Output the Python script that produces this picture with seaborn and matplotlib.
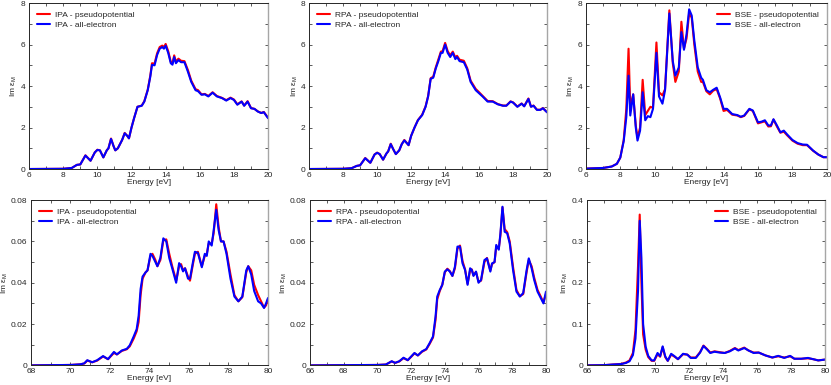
import matplotlib
matplotlib.use("Agg")
import matplotlib.pyplot as plt
import numpy as np
import pandas as pd
import seaborn as sns
from matplotlib.ticker import MultipleLocator

# valence region (6-20 eV)
ipa_e = [6.0, 8.0, 8.5, 8.8, 9.0, 9.3, 9.6, 9.85, 10.0, 10.15, 10.35, 10.55, 10.65, 10.8, 10.95, 11.05,
         11.2, 11.45, 11.6, 11.75, 11.85, 12.0, 12.15, 12.35, 12.6, 12.75, 12.95, 13.1, 13.2, 13.35, 13.5,
         13.65, 13.8, 13.9, 14.0, 14.15, 14.3, 14.4, 14.5, 14.6, 14.75, 14.9, 15.1, 15.3, 15.5, 15.75,
         15.9, 16.1, 16.3, 16.5, 16.75, 17.0, 17.3, 17.55, 17.8, 18.0, 18.2, 18.45, 18.6, 18.8, 19.0,
         19.2, 19.4, 19.6, 19.75, 20.0]
ipa_ae = [0.0, 0.01, 0.05, 0.2, 0.22, 0.65, 0.4, 0.8, 0.92, 0.9, 0.56, 0.9, 1.0, 1.45, 1.1, 0.9,
          1.0, 1.4, 1.72, 1.6, 1.48, 2.0, 2.45, 3.0, 3.05, 3.25, 3.8, 4.45, 5.02, 5.0, 5.5,
          5.8, 5.88, 5.8, 5.95, 5.6, 5.1, 5.03, 5.4, 5.1, 5.25, 5.15, 5.15, 4.7, 4.2, 3.8,
          3.75, 3.58, 3.6, 3.5, 3.68, 3.5, 3.42, 3.3, 3.42, 3.33, 3.1, 3.25, 3.05, 3.25, 2.93,
          2.9, 2.77, 2.7, 2.74, 2.45]
ipa_pp = [0.0, 0.01, 0.05, 0.2, 0.22, 0.66, 0.4, 0.8, 0.93, 0.9, 0.56, 0.9, 1.0, 1.47, 1.1, 0.9,
          1.0, 1.4, 1.74, 1.6, 1.48, 2.0, 2.45, 3.0, 3.06, 3.27, 3.82, 4.5, 5.1, 5.08, 5.58,
          5.88, 5.95, 5.88, 6.03, 5.68, 5.17, 5.1, 5.48, 5.18, 5.32, 5.22, 5.2, 4.78, 4.26, 3.85,
          3.8, 3.6, 3.62, 3.52, 3.7, 3.52, 3.43, 3.32, 3.44, 3.35, 3.12, 3.26, 3.06, 3.27, 2.94,
          2.9, 2.78, 2.7, 2.75, 2.47]

rpa_e = [6.0, 8.0, 8.5, 8.8, 9.0, 9.3, 9.6, 9.85, 10.0, 10.15, 10.35, 10.55, 10.65, 10.8, 10.95,
         11.1, 11.3, 11.45, 11.6, 11.85, 12.0, 12.2, 12.4, 12.65, 12.85, 13.0, 13.15, 13.3, 13.45, 13.6,
         13.75, 13.85, 14.0, 14.15, 14.3, 14.45, 14.6, 14.7, 14.85, 15.1, 15.3, 15.5, 15.8, 16.0, 16.2,
         16.5, 16.8, 17.1, 17.4, 17.6, 17.85, 18.0, 18.25, 18.5, 18.65, 18.9, 19.05, 19.2, 19.4, 19.6,
         19.75, 20.0]
rpa_ae = [0.0, 0.01, 0.04, 0.15, 0.18, 0.52, 0.3, 0.7, 0.78, 0.72, 0.45, 0.75, 0.85, 1.2, 0.95,
          0.72, 0.9, 1.2, 1.38, 1.15, 1.6, 2.0, 2.35, 2.6, 3.0, 3.5, 4.35, 4.4, 4.85, 5.2,
          5.6, 5.6, 6.0, 5.6, 5.4, 5.6, 5.3, 5.4, 5.2, 5.15, 4.8, 4.2, 3.8, 3.65, 3.5,
          3.25, 3.25, 3.12, 3.05, 3.05, 3.25, 3.2, 3.0, 3.15, 3.02, 3.38, 3.0, 3.05, 2.85, 2.85,
          2.93, 2.73]
rpa_pp = [0.0, 0.01, 0.04, 0.15, 0.18, 0.53, 0.3, 0.7, 0.79, 0.72, 0.45, 0.75, 0.85, 1.22, 0.95,
          0.72, 0.9, 1.2, 1.4, 1.15, 1.6, 2.0, 2.36, 2.62, 3.02, 3.52, 4.38, 4.45, 4.9, 5.28,
          5.66, 5.68, 6.08, 5.68, 5.48, 5.66, 5.38, 5.46, 5.27, 5.22, 4.86, 4.26, 3.86, 3.7, 3.53,
          3.28, 3.27, 3.13, 3.06, 3.06, 3.26, 3.21, 3.01, 3.16, 3.03, 3.4, 3.01, 3.06, 2.86, 2.86,
          2.94, 2.74]

bse_e = [6.0, 7.0, 7.5, 7.8, 8.0, 8.2, 8.35, 8.48, 8.58, 8.75, 8.9, 9.0, 9.15, 9.3, 9.45, 9.6,
         9.75, 9.9, 10.1, 10.25, 10.45, 10.6, 10.85, 11.05, 11.2, 11.4, 11.55, 11.7, 11.85, 12.0,
         12.15, 12.3, 12.5, 12.7, 12.8, 13.0, 13.2, 13.4, 13.6, 13.8, 14.0, 14.2, 14.5, 14.8, 15.0,
         15.2, 15.5, 15.7, 16.0, 16.2, 16.4, 16.6, 16.75, 16.9, 17.1, 17.3, 17.5, 17.7, 18.0, 18.3,
         18.6, 18.85, 19.2, 19.5, 19.8, 20.0]
bse_ae = [0.02, 0.05, 0.12, 0.25, 0.55, 1.35, 2.5, 4.5, 2.58, 3.6, 2.0, 1.37, 1.85, 3.7, 2.35, 2.55,
          2.5, 2.9, 5.6, 3.5, 3.15, 3.8, 7.5, 5.2, 4.5, 4.9, 6.6, 5.75, 6.5, 7.7,
          7.4, 6.2, 4.9, 4.4, 4.3, 3.8, 3.7, 3.82, 3.92, 3.45, 2.9, 2.9, 2.65, 2.6, 2.52,
          2.58, 2.9, 2.82, 2.25, 2.28, 2.35, 2.1, 2.1, 2.4, 2.1, 1.77, 1.85, 1.66, 1.4, 1.25,
          1.18, 1.17, 0.89, 0.7, 0.57, 0.57]
bse_pp = [0.02, 0.05, 0.12, 0.25, 0.55, 1.4, 2.9, 5.8, 3.0, 3.6, 2.1, 1.5, 2.0, 4.3, 2.6, 2.8,
          3.0, 2.95, 6.1, 3.7, 3.55, 3.85, 7.65, 5.1, 4.2, 4.7, 7.1, 5.8, 6.3, 7.5,
          7.3, 6.0, 4.7, 4.2, 4.2, 3.75, 3.6, 3.78, 3.85, 3.4, 2.8, 2.85, 2.62, 2.58, 2.5,
          2.56, 2.88, 2.8, 2.2, 2.25, 2.3, 2.05, 2.06, 2.38, 2.05, 1.75, 1.8, 1.62, 1.37, 1.22,
          1.15, 1.15, 0.88, 0.7, 0.57, 0.57]

# semicore region (66-80 eV)
ipa2_e = [68.0, 70.0, 70.5, 70.7, 70.85, 71.1, 71.35, 71.65, 71.9, 72.2, 72.35, 72.6, 72.85, 73.0,
          73.2, 73.35, 73.45, 73.55, 73.65, 73.8, 73.9, 74.05, 74.15, 74.3, 74.4, 74.55, 74.7, 74.85,
          75.0, 75.15, 75.35, 75.5, 75.6, 75.7, 75.8, 75.95, 76.05, 76.2, 76.3, 76.45, 76.65, 76.8,
          76.9, 77.0, 77.15, 77.25, 77.38, 77.5, 77.62, 77.75, 77.9, 78.1, 78.3, 78.5, 78.7, 78.9,
          79.0, 79.15, 79.3, 79.5, 79.65, 79.8, 79.9, 80.0]
ipa2_ae = [0.0, 0.0002, 0.0005, 0.001, 0.0025, 0.0015, 0.0025, 0.0045, 0.003, 0.0065, 0.0053, 0.0072,
           0.008, 0.0097, 0.014, 0.0175, 0.024, 0.037, 0.043, 0.045, 0.046, 0.054, 0.053, 0.05,
           0.048, 0.052, 0.0615, 0.06, 0.052, 0.047, 0.040, 0.0495, 0.048, 0.0455, 0.047, 0.042,
           0.042, 0.050, 0.055, 0.0545, 0.0475, 0.054, 0.053, 0.060, 0.058, 0.0655, 0.0753, 0.0655,
           0.060, 0.060, 0.054, 0.042, 0.0333, 0.031, 0.0333, 0.046, 0.048, 0.044, 0.036, 0.031,
           0.030, 0.0278, 0.030, 0.0326]
ipa2_pp = [0.0, 0.0002, 0.0005, 0.0009, 0.0023, 0.0015, 0.0023, 0.0043, 0.003, 0.006, 0.0053, 0.007,
           0.0078, 0.0092, 0.013, 0.0165, 0.021, 0.034, 0.042, 0.045, 0.046, 0.053, 0.054, 0.051,
           0.048, 0.051, 0.0605, 0.061, 0.054, 0.048, 0.041, 0.048, 0.049, 0.046, 0.047, 0.043,
           0.041, 0.049, 0.054, 0.055, 0.048, 0.053, 0.054, 0.059, 0.059, 0.064, 0.078, 0.067,
           0.060, 0.060, 0.055, 0.044, 0.034, 0.031, 0.033, 0.045, 0.048, 0.046, 0.039, 0.034,
           0.031, 0.028, 0.029, 0.032]

rpa2_e = [66.0, 70.0, 70.5, 70.85, 71.05, 71.3, 71.55, 71.8, 72.05, 72.2, 72.4, 72.65, 72.9, 73.1,
          73.3, 73.45, 73.55, 73.7, 73.85, 74.0, 74.15, 74.3, 74.45, 74.6, 74.75, 74.9, 75.05, 75.2,
          75.35, 75.5, 75.6, 75.7, 75.85, 76.0, 76.15, 76.35, 76.5, 76.7, 76.8, 76.95, 77.05, 77.2,
          77.3, 77.42, 77.55, 77.7, 77.85, 78.05, 78.25, 78.45, 78.65, 78.85, 78.98, 79.15, 79.3,
          79.5, 79.65, 79.85, 80.0]
rpa2_ae = [0.0, 0.0002, 0.0004, 0.002, 0.0012, 0.002, 0.0037, 0.0025, 0.0047, 0.006, 0.0048, 0.0068,
           0.0079, 0.0108, 0.014, 0.0237, 0.0333, 0.0365, 0.039, 0.0454, 0.0465, 0.0454, 0.0433,
           0.0478, 0.0575, 0.0575, 0.0494, 0.0462, 0.039, 0.047, 0.0462, 0.0433, 0.0454, 0.040,
           0.0414, 0.051, 0.0518, 0.0454, 0.0494, 0.050, 0.0583, 0.056, 0.064, 0.0768, 0.0647,
           0.064, 0.059, 0.046, 0.0357, 0.0333, 0.035, 0.046, 0.0518, 0.047, 0.0414, 0.0357,
           0.0333, 0.030, 0.0357]
rpa2_pp = [0.0, 0.0002, 0.0004, 0.0019, 0.0012, 0.0019, 0.0035, 0.0025, 0.0045, 0.0058, 0.0048, 0.0066,
           0.0077, 0.0104, 0.0135, 0.022, 0.032, 0.036, 0.039, 0.045, 0.0468, 0.0456, 0.0433,
           0.047, 0.0565, 0.058, 0.0505, 0.0465, 0.0395, 0.046, 0.0465, 0.0436, 0.0452, 0.0405,
           0.041, 0.050, 0.052, 0.046, 0.049, 0.050, 0.0575, 0.0565, 0.063, 0.0765, 0.066,
           0.0645, 0.060, 0.0475, 0.0365, 0.0335, 0.0345, 0.045, 0.051, 0.048, 0.0425, 0.0365,
           0.034, 0.0305, 0.0345]

bse2_e = [66.0, 67.0, 67.5, 68.0, 68.3, 68.5, 68.7, 68.85, 69.0, 69.1, 69.2, 69.3, 69.45, 69.6,
          69.8, 69.95, 70.15, 70.3, 70.45, 70.6, 70.75, 70.95, 71.15, 71.35, 71.65, 71.9, 72.1,
          72.4, 72.65, 72.85, 73.05, 73.25, 73.5, 73.8, 74.1, 74.4, 74.7, 74.9, 75.25, 75.5, 75.8,
          76.1, 76.5, 76.9, 77.25, 77.6, 77.95, 78.2, 78.6, 79.0, 79.3, 79.6, 80.0]
bse2_ae = [0.0, 0.0005, 0.002, 0.003, 0.006, 0.01, 0.025, 0.065, 0.18, 0.35, 0.26, 0.1, 0.045,
           0.023, 0.012, 0.012, 0.03, 0.022, 0.046, 0.022, 0.011, 0.028, 0.022, 0.015, 0.028,
           0.026, 0.018, 0.018, 0.031, 0.047, 0.039, 0.03, 0.033, 0.031, 0.03, 0.034, 0.041,
           0.036, 0.042, 0.036, 0.03, 0.031, 0.024, 0.019, 0.023, 0.018, 0.023, 0.016, 0.016,
           0.018, 0.015, 0.012, 0.014]
bse2_pp = [0.0, 0.0005, 0.002, 0.0035, 0.007, 0.012, 0.03, 0.085, 0.24, 0.365, 0.2, 0.075, 0.038,
           0.02, 0.011, 0.011, 0.027, 0.021, 0.044, 0.02, 0.011, 0.026, 0.021, 0.015, 0.027,
           0.026, 0.019, 0.019, 0.032, 0.048, 0.04, 0.031, 0.034, 0.032, 0.03, 0.035, 0.042,
           0.037, 0.043, 0.036, 0.031, 0.031, 0.024, 0.019, 0.022, 0.019, 0.022, 0.016, 0.016,
           0.017, 0.015, 0.012, 0.014]

panels = [
    ("IPA", ipa_e, ipa_pp, ipa_ae, (6, 20), (0, 8), 2, 1, 2, "upper left"),
    ("RPA", rpa_e, rpa_pp, rpa_ae, (6, 20), (0, 8), 2, 1, 2, "upper left"),
    ("BSE", bse_e, bse_pp, bse_ae, (6, 20), (0, 8), 2, 1, 2, "upper right"),
    ("IPA", ipa2_e, ipa2_pp, ipa2_ae, (68, 80), (0, 0.08), 2, 1, 0.02, "upper left"),
    ("RPA", rpa2_e, rpa2_pp, rpa2_ae, (66, 80), (0, 0.08), 2, 1, 0.02, "upper left"),
    ("BSE", bse2_e, bse2_pp, bse2_ae, (66, 80), (0, 0.4), 2, 1, 0.1, "upper right"),
]

# axes boxes in figure fraction [left, bottom, width, height]
boxes = [
    [0.035, 0.561, 0.2876, 0.431],
    [0.372, 0.561, 0.2864, 0.431],
    [0.705, 0.561, 0.2900, 0.431],
    [0.0373, 0.051, 0.2852, 0.4292],
    [0.373, 0.051, 0.2840, 0.4292],
    [0.7064, 0.051, 0.2864, 0.4292],
]

sns.set_theme(style="ticks")
plt.rcParams["font.family"] = ["Liberation Sans", "DejaVu Sans"]
plt.rcParams["mathtext.fontset"] = "custom"
plt.rcParams["mathtext.rm"] = "Liberation Sans"
plt.rcParams["mathtext.it"] = "Liberation Sans"

fig = plt.figure(figsize=(8.31, 3.85), dpi=100)
fs = 6.0

for (name, e, pp, ae, xlim, ylim, xmaj, xmin, ymaj, loc), box in zip(panels, boxes):
    ax = fig.add_axes(box)
    lab_pp = f"{name} - pseudopotential"
    lab_ae = f"{name} - all-electron"
    df = pd.concat([
        pd.DataFrame({"energy": e, "im": pp, "calc": lab_pp}),
        pd.DataFrame({"energy": e, "im": ae, "calc": lab_ae}),
    ])
    sns.lineplot(data=df, x="energy", y="im", hue="calc", hue_order=[lab_pp, lab_ae],
                 palette=["#ff0000", "#0000ff"], lw=1.5, sort=False, ax=ax)
    ax.set_xlim(*xlim)
    ax.set_ylim(*ylim)
    ax.xaxis.set_major_locator(MultipleLocator(xmaj))
    ax.xaxis.set_minor_locator(MultipleLocator(xmin))
    ax.yaxis.set_major_locator(MultipleLocator(ymaj))
    ax.yaxis.set_minor_locator(MultipleLocator(ymaj / 2))
    ax.tick_params(which="both", direction="in", top=True, right=True, length=2.2,
                   width=0.6, color="0.25", labelsize=fs)
    ax.tick_params(axis="x", pad=1.8)
    ax.tick_params(axis="y", pad=2.5)
    ax.yaxis.set_major_formatter(plt.FuncFormatter(lambda v, p: f"{v:g}"))
    ax.set_xlabel("Energy [eV]", fontsize=fs, labelpad=0)
    ax.set_ylabel(r"Im ε$_M$", fontsize=fs, labelpad=1.0)
    for side in ["left", "bottom", "top"]:
        ax.spines[side].set_color("0.15")
        ax.spines[side].set_linewidth(0.7)
    ax.spines["right"].set_color("0.65")
    ax.spines["right"].set_linewidth(1.0)
    ax.legend(loc=loc, frameon=False, fontsize=fs, handlelength=1.5, handletextpad=0.6,
              labelspacing=0.25, borderaxespad=0.6, title=None)

fig.savefig("out.png", dpi=100)
